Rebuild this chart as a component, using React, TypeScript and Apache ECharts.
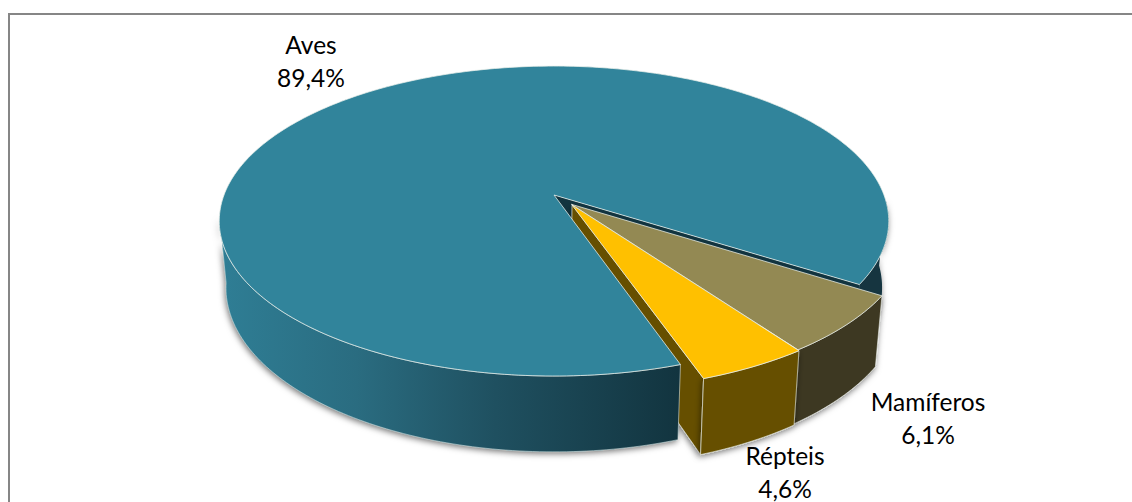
import React, { useEffect, useRef } from "react";
import * as echarts from "echarts";

const categories = ["Aves", "Mamíferos", "Répteis"];
const values = [89.4, 6.1, 4.6];

const topColors = ["#31849B", "#938953", "#FFC000"];
const wallColors = ["#12343F", "#3D3720", "#665000"];
const labelPos = [
  [311, 61],
  [928, 418],
  [785, 472],
];

const START = 161.2;
const CX = 554, CY = 195, R = 330, B = 150.6, K = 0.168;
const DEPTH = 65, BOTTOM_X = 0.98, BOTTOM_Y = 1.06;
const EXPLODE = [
  [0, 0],
  [0.052, -0.061],
  [0.054, -0.065],
];

type P = [number, number];

function project(u: number, v: number): P {
  const s = 1 / (1 + K * v);
  return [CX + R * u * s, CY - B * v * s];
}
function down(p: P): P {
  return [CX + (p[0] - CX) * BOTTOM_X, CY + DEPTH + (p[1] - CY) * BOTTOM_Y];
}
function rimPoint(deg: number, e: number[]): P {
  const a = (deg * Math.PI) / 180;
  return project(Math.sin(a) + e[0], Math.cos(a) + e[1]);
}
function arc(a0: number, a1: number, e: number[]): P[] {
  const n = Math.max(2, Math.ceil(Math.abs(a1 - a0)));
  const pts: P[] = [];
  for (let i = 0; i <= n; i++) pts.push(rimPoint(a0 + ((a1 - a0) * i) / n, e));
  return pts;
}
function wall(pts: P[]): P[] {
  return [...pts, ...pts.slice().reverse().map(down)];
}

function poly(points: P[], fill: any, z2: number, stroke = "rgba(235,240,235,0.75)", extra: any = {}) {
  return {
    type: "polygon",
    z2,
    shape: { points },
    style: { fill, stroke, lineWidth: 1, lineJoin: "round", ...extra },
  };
}

function sliceRanges() {
  const total = values.reduce((a, b) => a + b, 0);
  let cur = START;
  return values.map((v) => {
    const a0 = cur;
    cur += (v / total) * 360;
    return [a0, cur];
  });
}

const renderItem = (_: any, api: any) => {
  const i = api.value(2) as number;
  const ranges = sliceRanges();
  const [a0, a1] = ranges[i];
  const e = EXPLODE[i];
  const apex = project(e[0], e[1]);
  const rim = arc(a0, a1, e);
  const children: any[] = [];
  const shadow = {
    shadowBlur: 6,
    shadowColor: "rgba(0,0,0,0.55)",
    shadowOffsetX: -1,
    shadowOffsetY: 2,
  };

  if (i === 0) {
    const endA = a1 - 360;
    const rightWall = arc(92, endA, e);
    const leftWall = arc(a0, 262, e);
    children.push(poly(wall(leftWall), "#2a6c80", 0, "none", shadow));
    children.push(poly(wall(rightWall), wallColors[0], 1, "none", shadow));
    const edge = rimPoint(endA, e);
    children.push(poly([apex, edge, down(edge), down(apex)], wallColors[0], 2, "none"));
    children.push(
      poly(
        wall(leftWall),
        new echarts.graphic.LinearGradient(0, 0, 1, 0, [
          { offset: 0, color: "#2F7E95" },
          { offset: 0.3, color: "#2A6C80" },
          { offset: 0.6, color: "#1F5060" },
          { offset: 1, color: "#12343F" },
        ]),
        8,
        "rgba(235,240,235,0.55)"
      )
    );
    children.push(poly([apex, ...rim], topColors[0], 9));
  } else if (i === 1) {
    children.push(poly(wall(rim), wallColors[1], 3, "rgba(235,240,235,0.6)", shadow));
    children.push(poly([apex, ...rim], topColors[1], 4));
  } else {
    const edge = rimPoint(a1, e);
    children.push(poly([apex, edge, down(edge), down(apex)], wallColors[2], 5, "rgba(235,240,235,0.6)", shadow));
    children.push(poly(wall(rim), wallColors[2], 6, "rgba(235,240,235,0.6)", shadow));
    children.push(poly([apex, ...rim], topColors[2], 7));
  }

  children.push({
    type: "text",
    z2: 20,
    style: {
      x: labelPos[i][0],
      y: labelPos[i][1],
      text: `${categories[i]}\n${values[i].toFixed(1).replace(".", ",")}%`,
      fontFamily: "Lato",
      fontSize: 24.5,
      lineHeight: 33,
      fill: "#000000",
      align: "center",
      verticalAlign: "middle",
    },
  });
  return { type: "group", children };
};

export default function App() {
  const ref = useRef<HTMLDivElement>(null);
  useEffect(() => {
    document.body.style.margin = "0";
    const chart = echarts.init(ref.current!, undefined, { renderer: "svg" });
    chart.setOption({
      animation: false,
      backgroundColor: "#ffffff",
      graphic: [
        {
          type: "polyline",
          shape: { points: [[9, 510], [9, 14], [1140, 14]] },
          style: { stroke: "#868686", lineWidth: 2, fill: "none" },
        },
      ],
      series: [
        {
          type: "custom",
          coordinateSystem: "none",
          renderItem,
          data: categories.map((c, i) => [c, values[i], i]),
          encode: { value: [1] },
          silent: true,
        },
      ],
    });
    return () => chart.dispose();
  }, []);
  return <div ref={ref} style={{ position: "fixed", left: 0, top: 0, width: 1132, height: 502 }} />;
}
